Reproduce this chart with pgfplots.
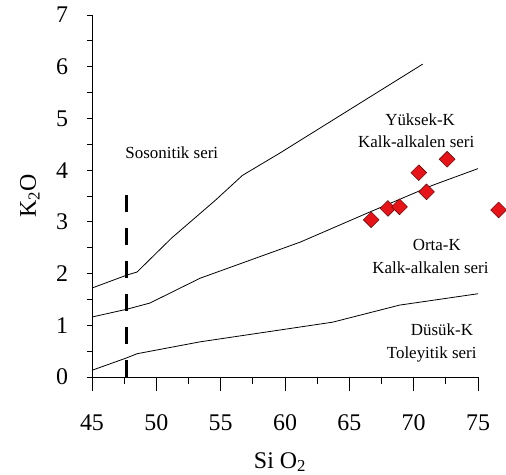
\documentclass[border=0pt]{standalone}
\usepackage{fontspec}
\setmainfont{Liberation Serif}
\usepackage{pgfplots}
\pgfplotsset{compat=1.18}
\definecolor{mred}{RGB}{230,20,25}
\begin{document}
\begin{tikzpicture}
\begin{axis}[
  at={(0,0)}, anchor=south west,
  scale only axis, width=386bp, height=362bp,
  xmin=45, xmax=75, ymin=0, ymax=7,
  axis x line*=bottom, axis y line*=left,
  xtick pos=bottom, ytick pos=left,
  axis line style={-, line width=0.9bp},
  xtick={45,50,...,75}, ytick={0,1,...,7},
  minor x tick num=1, minor y tick num=1,
  xtick align=outside, ytick align=outside,
  major tick length=14bp, minor tick length=7bp,
  ytick style={/pgfplots/major tick length=5bp,/pgfplots/minor tick length=5bp},
  every tick/.append style={line width=0.9bp, black},
  /pgf/number format/assume math mode=true,
  tick label style={font=\fontsize{24}{28}\selectfont},
  xticklabel style={anchor=center, yshift=-32bp},
  yticklabel style={anchor=center, xshift=-16bp},
  xlabel={Si O\textsubscript{2}},
  ylabel={K\textsubscript{2}O},
  label style={font=\fontsize{24}{28}\selectfont},
  xlabel style={at={(axis description cs:0.487,-0.235)}, anchor=center},
  ylabel style={at={(axis description cs:-0.161,0.5)}, anchor=center},
  clip=false,
]
\addplot[black, line width=0.8bp] coordinates {(45,1.72)(47.7,1.97)(48.5,2.03)(51.2,2.69)(54.6,3.42)(56.7,3.9)(59.6,4.33)(70.7,6.05)};
\addplot[black, line width=0.8bp] coordinates {(45,1.16)(47.7,1.31)(49.5,1.43)(53.4,1.91)(61.2,2.61)(66.4,3.17)(71.5,3.71)(75,4.03)};
\addplot[black, line width=0.8bp] coordinates {(45,0.13)(47.7,0.37)(48.5,0.45)(53.4,0.68)(63.7,1.06)(68.9,1.39)(75,1.61)};
\addplot[black, line width=2.6bp, dash pattern=on 17bp off 16bp] coordinates {(47.7,0)(47.7,3.62)};
\addplot[only marks, mark=square*, mark size=5.6bp, mark options={rotate=45, fill=mred, draw=black!70!red, line width=0.4bp}] coordinates {
(66.7,3.04)(68.0,3.26)(68.9,3.29)(71.0,3.58)(70.4,3.95)(72.6,4.21)(76.6,3.23)};
\begin{scope}[every node/.style={font=\fontsize{17}{20}\selectfont, inner sep=0pt, anchor=center}]
\node at (axis cs:51.2,4.33) {Sosonitik seri};
\node at (axis cs:70.5,4.97) {Yüksek-K};
\node at (axis cs:70.2,4.55) {Kalk-alkalen seri};
\node at (axis cs:71.8,2.55) {Orta-K};
\node at (axis cs:71.3,2.11) {Kalk-alkalen seri};
\node at (axis cs:72.2,0.91) {Düsük-K};
\node at (axis cs:71.4,0.43) {Toleyitik seri};
\end{scope}
\end{axis}
\pgfresetboundingbox
\path[use as bounding box] (-92bp,-98bp) rectangle (414bp,377bp);
\end{tikzpicture}
\end{document}
